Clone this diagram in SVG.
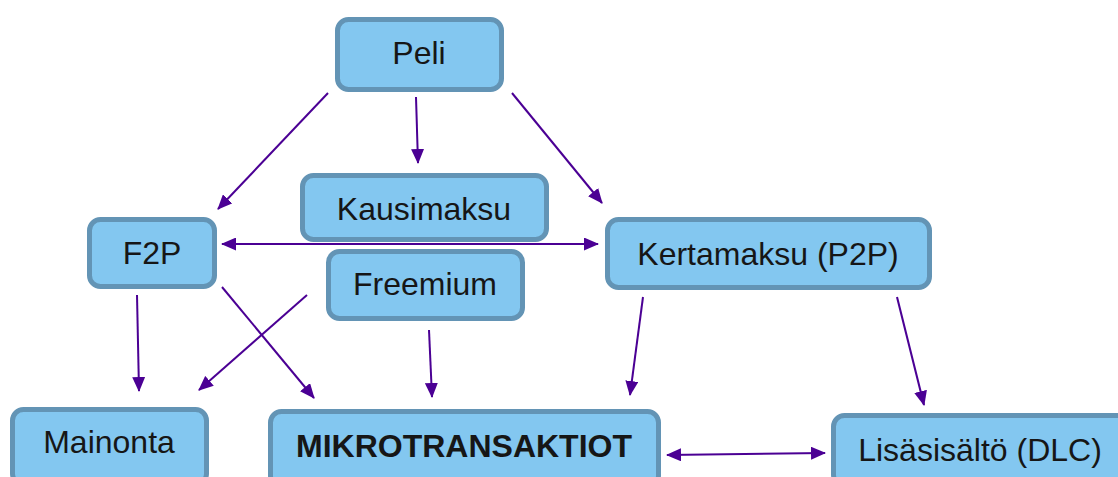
<svg xmlns="http://www.w3.org/2000/svg" width="1118" height="477" viewBox="0 0 1118 477">
<style>
.box{fill:#83C7F0;stroke:#6394B5;stroke-width:5}
.lbl{font-family:"Liberation Sans",Arial,sans-serif;font-size:32px;fill:#161616;text-anchor:middle}
.bold{font-weight:bold;font-size:32px}
.con line{stroke:#4B0094;stroke-width:2;fill:none;marker-end:url(#ah)}
.con line.both{marker-start:url(#ah)}
</style>
<defs>
<marker id="ah" viewBox="0 0 15 13" refX="14" refY="6.5" markerWidth="15" markerHeight="13" markerUnits="userSpaceOnUse" orient="auto-start-reverse">
<path d="M0,0 L15,6.5 L0,13 z" fill="#4B0094"/>
</marker>
</defs>
<rect width="1118" height="477" fill="#ffffff"/>
<g class="con" id="connectors">
<line x1="328" y1="93" x2="218" y2="209"/>
<line x1="416" y1="97" x2="418" y2="163"/>
<line x1="512" y1="93" x2="602" y2="203"/>
<line class="both" x1="222" y1="244" x2="598" y2="244"/>
<line x1="137" y1="295" x2="139" y2="391"/>
<line x1="222" y1="287" x2="314" y2="398"/>
<line x1="307" y1="295" x2="199" y2="390"/>
<line x1="429" y1="330" x2="432" y2="397"/>
<line x1="643" y1="297" x2="630" y2="395"/>
<line x1="897" y1="297" x2="924" y2="405"/>
<line class="both" x1="667" y1="455" x2="825" y2="453"/>
</g>
<g id="peli"><rect class="box" x="337.5" y="19.5" width="164" height="70" rx="11"/><text class="lbl" x="419" y="64">Peli</text></g>
<g id="kausimaksu"><rect class="box" x="302.5" y="175.5" width="244" height="64" rx="11"/><text class="lbl" x="424" y="220">Kausimaksu</text></g>
<g id="f2p"><rect class="box" x="89.5" y="219.5" width="125" height="67" rx="11"/><text class="lbl" x="152" y="264">F2P</text></g>
<g id="freemium"><rect class="box" x="328.5" y="251.5" width="194" height="67" rx="11"/><text class="lbl" x="425" y="295">Freemium</text></g>
<g id="kertamaksu"><rect class="box" x="607.5" y="219.5" width="322" height="68" rx="11"/><text class="lbl" x="768" y="265">Kertamaksu (P2P)</text></g>
<g id="mainonta"><rect class="box" x="12.5" y="409.5" width="194" height="75" rx="11"/><text class="lbl" x="109" y="453">Mainonta</text></g>
<g id="mikrotransaktiot"><rect class="box" x="270.5" y="411.5" width="388" height="75" rx="11"/><text class="lbl bold" x="464" y="457">MIKROTRANSAKTIOT</text></g>
<g id="lisasisalto"><rect class="box" x="833.5" y="415.5" width="300" height="70" rx="11"/><text class="lbl" x="980" y="461">Lisäsisältö (DLC)</text></g>
</svg>
